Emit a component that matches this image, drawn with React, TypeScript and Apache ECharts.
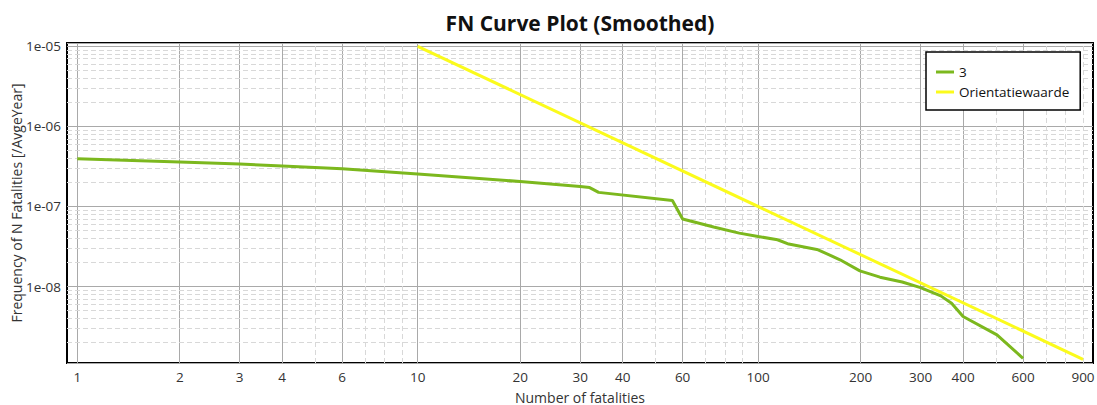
import React, { useEffect, useRef } from 'react';
import * as echarts from 'echarts';

// ---- data ----
const seriesName3 = '3';
const seriesNameOrient = 'Orientatiewaarde';

// FN curve "3": [number of fatalities, frequency]
const curve3: [number, number][] = [
  [1, 3.95e-7],
  [2, 3.59e-7],
  [3, 3.38e-7],
  [4, 3.2e-7],
  [6, 2.96e-7],
  [10, 2.54e-7],
  [20, 2.05e-7],
  [30, 1.78e-7],
  [32, 1.72e-7],
  [34, 1.5e-7],
  [56, 1.19e-7],
  [60, 6.96e-8],
  [74, 5.53e-8],
  [88, 4.65e-8],
  [100, 4.22e-8],
  [114, 3.84e-8],
  [123, 3.39e-8],
  [150, 2.88e-8],
  [174, 2.16e-8],
  [199, 1.57e-8],
  [228, 1.31e-8],
  [265, 1.14e-8],
  [300, 9.7e-9],
  [344, 7.65e-9],
  [370, 6.2e-9],
  [400, 4.22e-9],
  [503, 2.49e-9],
  [600, 1.27e-9],
];

// Orientation value line
const orientatie: [number, number][] = [
  [10, 1e-5],
  [900, 1.235e-9],
];

// x axis tick labels and grid lines
const xTickLabels = [1, 2, 3, 4, 6, 10, 20, 30, 40, 60, 100, 200, 300, 400, 600, 900];
const xSolidGrid = [1, 2, 3, 4, 6, 10, 20, 30, 40, 60, 100, 200, 300, 400, 600];
const xDashedGrid = [5, 7, 8, 9, 50, 70, 80, 90, 500, 700, 800, 900];

// y axis decades and minor multipliers
const yDecades = [1e-9, 1e-8, 1e-7, 1e-6, 1e-5];
const yMinorMultipliers = [2, 3, 4, 5, 6, 7, 8, 9];

const xMin = 0.933;
const xMax = 963;
const yMin = 1.11e-9;
const yMax = 1.1e-5;

export default function App() {
  const ref = useRef<HTMLDivElement>(null);

  useEffect(() => {
    if (!ref.current) return;
    const chart = echarts.init(ref.current, null, { renderer: 'svg' });

    const font = 'Open Sans';
    const majorColor = '#a9a9a9';
    const minorColor = '#d8d8d8';
    const tickFont = 13.5;

    const xLabelStyle = (v: number) =>
      xTickLabels.indexOf(v) >= 0
        ? {
            show: true,
            position: 'start',
            formatter: () => String(v),
            color: '#333',
            fontSize: tickFont,
            fontFamily: font,
            distance: 7,
          }
        : { show: false };

    const lines: any[] = [];
    xSolidGrid.forEach((v) => {
      lines.push([
        {
          coord: [v, yMin],
          lineStyle: { color: majorColor, type: 'solid', width: 1 },
          label: xLabelStyle(v),
        },
        { coord: [v, yMax] },
      ]);
    });
    xDashedGrid.forEach((v) => {
      lines.push([
        {
          coord: [v, yMin],
          lineStyle: { color: minorColor, type: [5, 3], width: 1 },
          label: xLabelStyle(v),
        },
        { coord: [v, yMax] },
      ]);
    });
    yDecades.forEach((d) => {
      yMinorMultipliers.forEach((m) => {
        const v = d * m;
        if (v >= yMin && v <= yMax) {
          lines.push([
            {
              coord: [xMin, v],
              lineStyle: { color: minorColor, type: [5, 3], width: 1 },
              label: { show: false },
            },
            { coord: [xMax, v] },
          ]);
        }
      });
    });

    const decadeLabel = (value: number) => {
      const e = Math.log10(value);
      const r = Math.round(e);
      if (Math.abs(e - r) > 1e-6) return '';
      const abs = Math.abs(r);
      return '1e' + (r < 0 ? '-' : '+') + String(abs).padStart(2, '0');
    };

    chart.setOption({
      animation: false,
      backgroundColor: '#fff',
      textStyle: { fontFamily: font },
      title: {
        text: 'FN Curve Plot (Smoothed)',
        left: 580,
        top: 12,
        textAlign: 'center',
        padding: 0,
        textStyle: { fontSize: 21, fontWeight: 'bold', color: '#111', fontFamily: font },
      },
      legend: {
        data: [seriesName3, seriesNameOrient],
        orient: 'vertical',
        left: 926,
        top: 52,
        backgroundColor: '#fff',
        borderColor: '#000',
        borderWidth: 1.5,
        padding: [13, 11, 11, 10],
        icon: 'rect',
        itemWidth: 18,
        itemHeight: 3,
        itemGap: 6,
        textStyle: { fontSize: 13.5, color: '#111', fontFamily: font },
        z: 10,
      },
      grid: {
        left: 67,
        right: 4,
        top: 43,
        bottom: 42,
        show: true,
        containLabel: false,
        outerBoundsMode: 'none',
        borderColor: '#000',
        borderWidth: 2,
        backgroundColor: '#fff',
      },
      xAxis: {
        type: 'log',
        logBase: 10,
        min: xMin,
        max: xMax,
        axisLine: { show: false },
        axisTick: { show: false },
        axisLabel: { show: false },
        splitLine: { show: false },
        name: 'Number of fatalities',
        nameLocation: 'middle',
        nameGap: 27,
        nameMoveOverlap: false,
        nameTextStyle: { fontSize: 14, color: '#333', fontFamily: font },
      },
      yAxis: {
        type: 'log',
        logBase: 10,
        min: yMin,
        max: yMax,
        axisLine: { show: false },
        axisTick: { show: false },
        splitLine: { show: true, lineStyle: { color: majorColor, width: 1 } },
        axisLabel: {
          formatter: decadeLabel,
          color: '#333',
          fontSize: tickFont,
          fontFamily: font,
          margin: 6,
          showMinLabel: true,
          showMaxLabel: true,
        },
        name: 'Frequency of N Fatalities [/AvgeYear]',
        nameLocation: 'middle',
        nameGap: 44,
        nameMoveOverlap: false,
        nameTextStyle: { fontSize: 14, color: '#333', fontFamily: font },
      },
      series: [
        {
          name: 'grid',
          type: 'line',
          data: [],
          z: 1,
          silent: true,
          markLine: {
            silent: true,
            z: 1,
            symbol: ['none', 'none'],
            animation: false,
            emphasis: { disabled: true },
            data: lines,
          },
        },
        {
          name: seriesNameOrient,
          type: 'line',
          data: orientatie,
          symbol: 'none',
          z: 3,
          lineStyle: { color: '#fbfb1c', width: 3 },
          itemStyle: { color: '#fbfb1c' },
        },
        {
          name: seriesName3,
          type: 'line',
          data: curve3,
          symbol: 'none',
          z: 4,
          lineStyle: { color: '#7cb81e', width: 3 },
          itemStyle: { color: '#7cb81e' },
        },
      ],
    });

    return () => chart.dispose();
  }, []);

  return (
    <div
      ref={ref}
      style={{ position: 'fixed', left: 0, top: 0, width: 1097, height: 405, background: '#fff' }}
    />
  );
}
